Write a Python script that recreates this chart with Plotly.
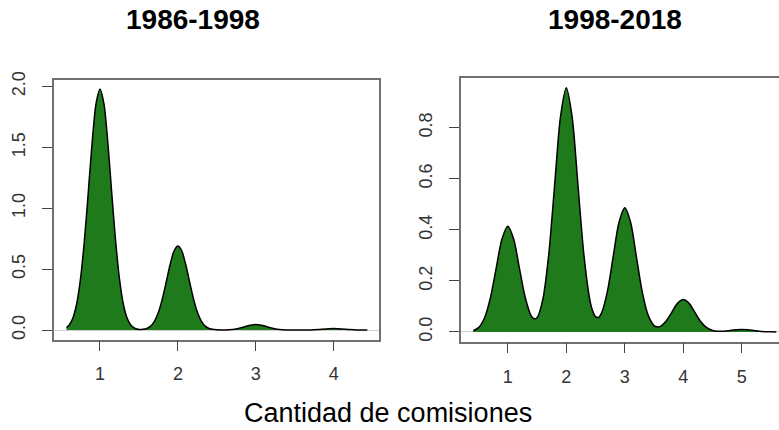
import plotly.graph_objects as go

# ---- data ----
title_left = "1986-1998"
title_right = "1998-2018"
x_title = "Cantidad de comisiones"

left_x = [0.57, 0.60, 0.65, 0.70, 0.75, 0.80, 0.85, 0.90, 0.95, 1.00,
          1.05, 1.10, 1.15, 1.20, 1.25, 1.30, 1.35, 1.40, 1.45, 1.50,
          1.55, 1.60, 1.65, 1.70, 1.75, 1.80, 1.85, 1.90, 1.95, 2.00,
          2.05, 2.10, 2.15, 2.20, 2.25, 2.30, 2.35, 2.40, 2.50, 2.60,
          2.70, 2.80, 2.85, 2.90, 2.95, 3.00, 3.05, 3.10, 3.15, 3.20,
          3.30, 3.40, 3.50, 3.60, 3.70, 3.80, 3.90, 4.00, 4.10, 4.20,
          4.30, 4.43]
left_y = [0.020, 0.037, 0.095, 0.212, 0.420, 0.735, 1.133, 1.544, 1.861, 1.980,
          1.861, 1.544, 1.133, 0.735, 0.420, 0.212, 0.095, 0.037, 0.013, 0.005,
          0.006, 0.013, 0.033, 0.074, 0.146, 0.256, 0.395, 0.538, 0.649, 0.690,
          0.649, 0.538, 0.395, 0.256, 0.146, 0.074, 0.033, 0.013, 0.002, 0.001,
          0.005, 0.017, 0.026, 0.035, 0.042, 0.045, 0.042, 0.035, 0.026, 0.017,
          0.005, 0.001, 0.000, 0.0002, 0.0013, 0.0045, 0.0094, 0.012, 0.0094, 0.0045,
          0.0013, 0.0001]

right_x = [0.41, 0.50, 0.60, 0.70, 0.80, 0.90, 1.00, 1.10, 1.20, 1.30,
           1.40, 1.45, 1.50, 1.60, 1.70, 1.80, 1.90, 2.00, 2.10, 2.20,
           2.30, 2.40, 2.45, 2.50, 2.55, 2.60, 2.70, 2.80, 2.90, 3.00,
           3.10, 3.20, 3.30, 3.40, 3.50, 3.55, 3.60, 3.70, 3.80, 3.90,
           4.00, 4.10, 4.20, 4.30, 4.40, 4.50, 4.60, 4.70, 4.80, 4.90,
           5.00, 5.10, 5.20, 5.30, 5.40, 5.50, 5.59]
right_y = [0.005, 0.017, 0.054, 0.131, 0.248, 0.364, 0.414, 0.364, 0.248, 0.133,
           0.063, 0.052, 0.056, 0.129, 0.304, 0.574, 0.842, 0.957, 0.842, 0.574,
           0.304, 0.129, 0.083, 0.060, 0.057, 0.073, 0.156, 0.293, 0.429, 0.487,
           0.429, 0.292, 0.155, 0.065, 0.025, 0.020, 0.021, 0.041, 0.076, 0.112,
           0.127, 0.112, 0.076, 0.040, 0.017, 0.006, 0.003, 0.003, 0.006, 0.0088,
           0.010, 0.0088, 0.006, 0.003, 0.0013, 0.0004, 0.0001]

left_xticks = [1, 2, 3, 4]
left_yticks = [0.0, 0.5, 1.0, 1.5, 2.0]
left_yticklabels = ["0.0", "0.5", "1.0", "1.5", "2.0"]
right_xticks = [1, 2, 3, 4, 5]
right_yticks = [0.0, 0.2, 0.4, 0.6, 0.8]
right_yticklabels = ["0.0", "0.2", "0.4", "0.6", "0.8"]

# ---- styling ----
FILL = "#1f7a1c"
FONT = "Liberation Sans, Arial, sans-serif"
BOX = "#707070"
TICK = "#444444"
W, H = 779, 430

fig = go.Figure()
fig.add_trace(go.Scatter(x=left_x, y=left_y, mode="lines", fill="tozeroy",
                         fillcolor=FILL, line=dict(color="black", width=1.5, shape="spline", smoothing=0.8),
                         xaxis="x", yaxis="y", showlegend=False, hoverinfo="skip"))
fig.add_trace(go.Scatter(x=right_x, y=right_y, mode="lines", fill="tozeroy",
                         fillcolor=FILL, line=dict(color="black", width=1.5, shape="spline", smoothing=0.8),
                         xaxis="x2", yaxis="y2", showlegend=False, hoverinfo="skip"))

common_axis = dict(showgrid=False, ticks="outside", ticklen=10, tickwidth=1, tickcolor=TICK,
                   showline=True, linecolor=BOX, linewidth=1.5,
                   tickfont=dict(family=FONT, size=18, color="#333333"))

fig.update_layout(
    width=W, height=H,
    margin=dict(l=0, r=0, t=0, b=0),
    paper_bgcolor="white", plot_bgcolor="white",
    xaxis=dict(domain=[54 / W, 379 / W], range=[0.41, 4.58], tickvals=left_xticks,
               mirror=True, zeroline=False, anchor="y", ticklabelstandoff=7, **common_axis),
    yaxis=dict(domain=[(H - 338) / H, (H - 73) / H], range=[-0.079, 2.056],
               tickvals=left_yticks, ticktext=left_yticklabels, tickangle=-90,
               mirror=True, zeroline=True, zerolinecolor="#d0d0d0", zerolinewidth=1,
               anchor="x", ticklabelstandoff=10, **common_axis),
    xaxis2=dict(domain=[461 / W, 1.0], range=[0.2, 5.636], tickvals=right_xticks,
                mirror=True, zeroline=False, anchor="y2", ticklabelstandoff=8, **common_axis),
    yaxis2=dict(domain=[(H - 340) / H, (H - 71.3) / H], range=[-0.038, 0.995],
                tickvals=right_yticks, ticktext=right_yticklabels, tickangle=-90,
                mirror=False, zeroline=True, zerolinecolor="#d0d0d0", zerolinewidth=1,
                anchor="x2", ticklabelstandoff=10, **common_axis),
    annotations=[
        dict(text="<b>%s</b>" % title_left, x=193 / W, y=1 - 12 / H, xref="paper", yref="paper",
             xanchor="center", yanchor="middle", showarrow=False,
             font=dict(family=FONT, size=28, color="black")),
        dict(text="<b>%s</b>" % title_right, x=615 / W, y=1 - 12 / H, xref="paper", yref="paper",
             xanchor="center", yanchor="middle", showarrow=False,
             font=dict(family=FONT, size=28, color="black")),
        dict(text=x_title, x=388 / W, y=1 - 413 / H, xref="paper", yref="paper",
             xanchor="center", yanchor="middle", showarrow=False,
             font=dict(family=FONT, size=27, color="black")),
    ],
)

fig.write_html("out.html", config={"displayModeBar": False},
               post_script="document.body.style.margin='0px';document.body.style.overflow='hidden';")
